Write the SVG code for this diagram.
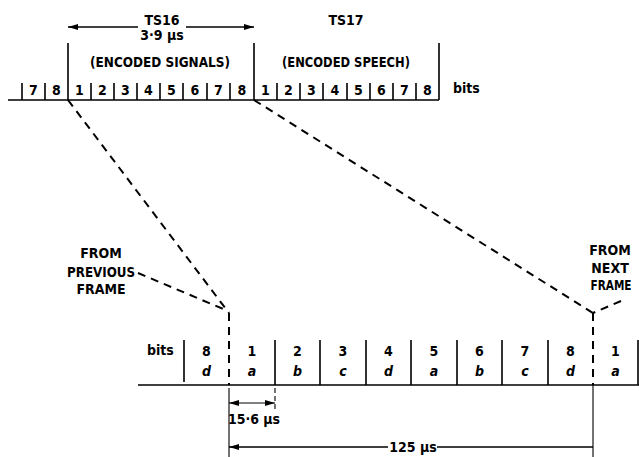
<svg xmlns="http://www.w3.org/2000/svg" width="639" height="457" viewBox="0 0 639 457">
<defs>
<marker id="ah" viewBox="0 0 10 6" refX="10" refY="3" markerWidth="10" markerHeight="6" markerUnits="userSpaceOnUse" orient="auto-start-reverse">
<path d="M0,0 L10,3 L0,6 Z" fill="#000"/>
</marker>
</defs>
<style>
text{font-family:"DejaVu Sans Condensed","Liberation Sans Narrow","Liberation Sans",sans-serif;font-weight:bold;fill:#000;font-size:14px}
.m{text-anchor:middle}
.it{font-style:italic}
.ln{stroke:#000;stroke-width:1.6;fill:none}
.th{stroke:#000;stroke-width:1.1;fill:none}
.ds{stroke:#000;stroke-width:2;fill:none;stroke-dasharray:8 6}
</style>
<rect width="639" height="457" fill="#fff"/>

<g id="top-frame">
<path class="ln" d="M8 100H439M68 43V100M254 43V100M439 43V100"/>
<path class="ln" d="M22 83V100M45 83V100M91 83V100M114 83V100M137 83V100M160 83V100M183 83V100M207 83V100M230 83V100M277 83V100M300 83V100M323 83V100M347 83V100M370 83V100M393 83V100M416 83V100"/>
<g class="m">
<text x="33.5" y="95">7</text><text x="56.5" y="95">8</text>
<text x="79.5" y="95">1</text><text x="102.5" y="95">2</text><text x="125.5" y="95">3</text><text x="148.5" y="95">4</text><text x="171.5" y="95">5</text><text x="195" y="95">6</text><text x="218.5" y="95">7</text><text x="242" y="95">8</text>
<text x="265.5" y="95">1</text><text x="288.5" y="95">2</text><text x="311.5" y="95">3</text><text x="335" y="95">4</text><text x="358.5" y="95">5</text><text x="381.5" y="95">6</text><text x="404.5" y="95">7</text><text x="427.5" y="95">8</text>
</g>
<text x="453" y="93">bits</text>
</g>

<g id="ts16">
<text class="m" x="162" y="25">TS16</text>
<text class="m" x="162" y="40" font-size="13">3·9 μs</text>
<text class="m" x="160" y="67" textLength="140" lengthAdjust="spacingAndGlyphs">(ENCODED SIGNALS)</text>
</g>
<g id="ts17">
<text class="m" x="346" y="25">TS17</text>
<text class="m" x="346" y="67" textLength="128" lengthAdjust="spacingAndGlyphs">(ENCODED SPEECH)</text>
</g>

<g id="prev-label">
<text class="m" x="101" y="258">FROM</text>
<text class="m" x="101" y="277" textLength="68" lengthAdjust="spacingAndGlyphs">PREVIOUS</text>
<text class="m" x="101" y="294">FRAME</text>
</g>
<g id="next-label">
<text class="m" x="610" y="255">FROM</text>
<text class="m" x="610" y="273">NEXT</text>
<text class="m" x="611" y="290" font-size="13" textLength="41" lengthAdjust="spacingAndGlyphs">FRAME</text>
</g>

<g id="bottom-frame">
<path class="ln" d="M138 385H639M184 340V382M275 340V385M320 340V385M366 340V385M411 340V385M457 340V385M502 340V385M548 340V385M638 340V385"/>
<text x="147" y="355">bits</text>
<g class="m">
<text x="206.5" y="356">8</text><text x="252" y="356">1</text><text x="297.5" y="356">2</text><text x="343" y="356">3</text><text x="388.5" y="356">4</text><text x="434" y="356">5</text><text x="479.5" y="356">6</text><text x="525" y="356">7</text><text x="570.5" y="356">8</text><text x="615.5" y="356">1</text>
</g>
<g class="m it">
<text x="206.5" y="376">d</text><text x="252" y="376">a</text><text x="297.5" y="376">b</text><text x="343" y="376">c</text><text x="388.5" y="376">d</text><text x="434" y="376">a</text><text x="479.5" y="376">b</text><text x="525" y="376">c</text><text x="570.5" y="376">d</text><text x="615.5" y="376">a</text>
</g>
</g>

<g id="connectors">
<path class="ln" d="M138 27H68" marker-end="url(#ah)"/>
<path class="ln" d="M186 27H254" marker-end="url(#ah)"/>
<path class="ds" d="M68 100L229 313"/>
<path class="ds" d="M254 100L593 313"/>
<path class="ds" d="M138 273L228 311"/>
<path class="ds" d="M621 301L593 313"/>
<path class="ds" d="M229 313V385"/>
<path class="ds" d="M593 313V385"/>
<path class="th" d="M229 388V457M593 385V457"/>
<path class="th" d="M275 388V410" stroke-dasharray="5 3"/>
<path class="th" d="M229 403H275" marker-start="url(#ah)" marker-end="url(#ah)"/>
<text class="m" x="254" y="424" font-size="13">15·6 μs</text>
<path class="ln" d="M388 447H229" marker-end="url(#ah)"/>
<path class="ln" d="M437 447H593"/>
<text class="m" x="413" y="452" font-size="13">125 μs</text>
</g>
</svg>
